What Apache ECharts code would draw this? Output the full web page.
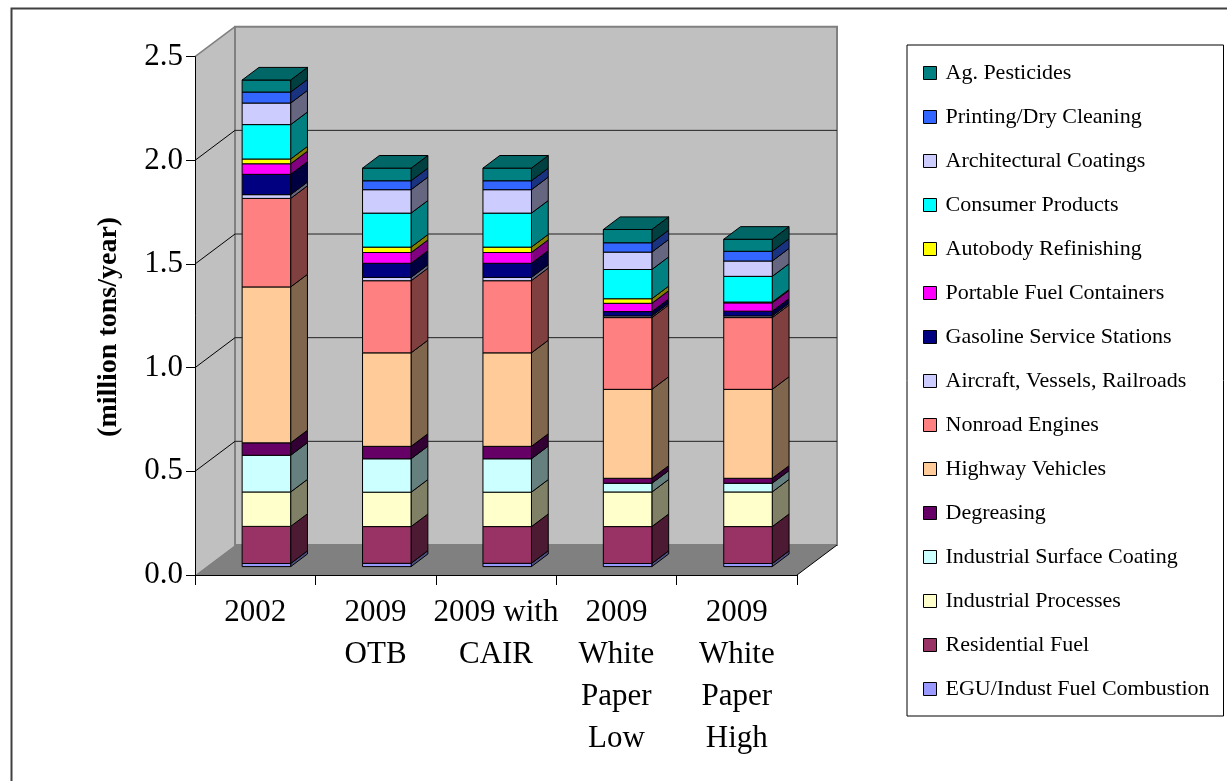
<!DOCTYPE html>
<html>
<head>
<meta charset="utf-8">
<title>VOC Emissions by Source Category</title>
<script src="https://cdn.jsdelivr.net/npm/echarts@6/dist/echarts.min.js"></script>
<style>
  html, body { margin: 0; padding: 0; background: #fff; }
  #chart { width: 1227px; height: 781px; }
</style>
</head>
<body>
<div id="chart"></div>
<script>
// Scenario columns
const categories = ['2002', '2009\nOTB', '2009 with\nCAIR', '2009\nWhite\nPaper\nLow', '2009\nWhite\nPaper\nHigh'];

// Source categories, stacked bottom to top (million tons/year)
const egu          = [0.015, 0.016, 0.016, 0.015, 0.015];
const residential  = [0.179, 0.177, 0.177, 0.178, 0.178];
const indProcesses = [0.166, 0.166, 0.166, 0.167, 0.167];
const indSurface   = [0.177, 0.161, 0.161, 0.042, 0.042];
const degreasing   = [0.060, 0.060, 0.060, 0.024, 0.024];
const highway      = [0.752, 0.451, 0.451, 0.429, 0.429];
const nonroad      = [0.427, 0.348, 0.348, 0.346, 0.346];
const aircraft     = [0.018, 0.016, 0.016, 0.008, 0.008];
const gasoline     = [0.098, 0.068, 0.068, 0.021, 0.023];
const portableFuel = [0.051, 0.052, 0.052, 0.040, 0.040];
const autobody     = [0.023, 0.026, 0.026, 0.022, 0.004];
const consumer     = [0.166, 0.164, 0.164, 0.141, 0.124];
const architectural= [0.104, 0.113, 0.113, 0.084, 0.074];
const printing     = [0.053, 0.043, 0.043, 0.045, 0.047];
const agPesticides = [0.058, 0.061, 0.061, 0.064, 0.058];

const yTicks = [0, 0.5, 1.0, 1.5, 2.0, 2.5];

const sources = [
  { name: 'EGU/Indust Fuel Combustion', data: egu,           color: '#9999FF' },
  { name: 'Residential Fuel',           data: residential,   color: '#993366' },
  { name: 'Industrial Processes',       data: indProcesses,  color: '#FFFFCC' },
  { name: 'Industrial Surface Coating', data: indSurface,    color: '#CCFFFF' },
  { name: 'Degreasing',                 data: degreasing,    color: '#660066' },
  { name: 'Highway Vehicles',           data: highway,       color: '#FFCC99' },
  { name: 'Nonroad Engines',            data: nonroad,       color: '#FF8080' },
  { name: 'Aircraft, Vessels, Railroads', data: aircraft,    color: '#CCCCFF' },
  { name: 'Gasoline Service Stations',  data: gasoline,      color: '#000080' },
  { name: 'Portable Fuel Containers',   data: portableFuel,  color: '#FF00FF' },
  { name: 'Autobody Refinishing',       data: autobody,      color: '#FFFF00' },
  { name: 'Consumer Products',          data: consumer,      color: '#00FFFF' },
  { name: 'Architectural Coatings',     data: architectural, color: '#CCCCFF' },
  { name: 'Printing/Dry Cleaning',      data: printing,      color: '#3366FF' },
  { name: 'Ag. Pesticides',             data: agPesticides,  color: '#008080' }
];

// Oblique projection of the plot box depth (pixels)
const DEPTH_X = 40, DEPTH_Y = -30;
const BAR_FRONT = 0.28;   // bar front face position within the depth
const BAR_DEPTH = 0.42;   // bar depth as fraction of the box depth
const BAR_WIDTH = 0.403;  // bar width as fraction of the category band

const FONT = '"Liberation Serif", "Times New Roman", serif';

function shade(hex, k) {
  const n = parseInt(hex.slice(1), 16);
  const r = Math.round(((n >> 16) & 255) * k);
  const g = Math.round(((n >> 8) & 255) * k);
  const b = Math.round((n & 255) * k);
  return 'rgb(' + r + ',' + g + ',' + b + ')';
}

function renderWalls(params, api) {
  const cs = params.coordSys;
  const x = cs.x, y = cs.y, w = cs.width, h = cs.height;
  const dx = DEPTH_X, dy = DEPTH_Y;
  const children = [];
  // left wall
  children.push({ type: 'polygon', shape: { points: [[x, y], [x + dx, y + dy], [x + dx, y + h + dy], [x, y + h]] },
    style: { fill: '#c0c0c0', stroke: null } });
  // floor
  children.push({ type: 'polygon', shape: { points: [[x, y + h], [x + dx, y + h + dy], [x + w + dx, y + h + dy], [x + w, y + h]] },
    style: { fill: '#808080', stroke: null } });
  // back wall
  children.push({ type: 'rect', shape: { x: x + dx, y: y + dy, width: w, height: h },
    style: { fill: '#c0c0c0', stroke: '#808080', lineWidth: 2 } });
  // gridlines on back and left walls
  yTicks.forEach(function (v) {
    if (v === 0 || v === yTicks[yTicks.length - 1]) return;
    const yy = api.coord([0, v])[1];
    children.push({ type: 'line', shape: { x1: x + dx, y1: yy + dy, x2: x + dx + w, y2: yy + dy },
      style: { stroke: '#222', lineWidth: 1 } });
    children.push({ type: 'line', shape: { x1: x, y1: yy, x2: x + dx, y2: yy + dy },
      style: { stroke: '#000', lineWidth: 1 } });
  });
  // wall edges
  children.push({ type: 'line', shape: { x1: x, y1: y, x2: x + dx, y2: y + dy }, style: { stroke: '#808080', lineWidth: 1.5 } });
  children.push({ type: 'line', shape: { x1: x + w, y1: y + h, x2: x + w + dx, y2: y + h + dy }, style: { stroke: '#000', lineWidth: 1 } });
  return { type: 'group', children: children };
}

function renderSegment(params, api) {
  const cat = api.value(0);
  const val = api.value(1);
  const base = api.value(2);
  const isTop = api.value(3) === 1;
  const color = sources[params.seriesIndex - 1].color;
  const p0 = api.coord([cat, base]);
  const p1 = api.coord([cat, base + val]);
  const bw = api.size([1, 0])[0] * BAR_WIDTH;
  const ox = DEPTH_X * BAR_FRONT, oy = DEPTH_Y * BAR_FRONT;
  const sx = DEPTH_X * BAR_DEPTH, sy = DEPTH_Y * BAR_DEPTH;
  const x0 = p0[0] - bw / 2 + ox, x1 = x0 + bw;
  const yb = p0[1] + oy, yt = p1[1] + oy;
  const line = { stroke: '#000', lineWidth: 1, lineJoin: 'round' };
  const children = [
    { type: 'polygon', shape: { points: [[x1, yb], [x1 + sx, yb + sy], [x1 + sx, yt + sy], [x1, yt]] },
      style: Object.assign({ fill: shade(color, 0.5) }, line) },
    { type: 'rect', shape: { x: x0, y: yt, width: bw, height: yb - yt },
      style: Object.assign({ fill: color }, line) }
  ];
  if (isTop) {
    children.push({ type: 'polygon', shape: { points: [[x0, yt], [x0 + sx, yt + sy], [x1 + sx, yt + sy], [x1, yt]] },
      style: Object.assign({ fill: shade(color, 0.8) }, line) });
  }
  return { type: 'group', children: children };
}

// cumulative bases for the stack
const bases = categories.map(function () { return 0; });
const barSeries = sources.map(function (s, si) {
  const data = s.data.map(function (v, ci) {
    const item = [ci, v, bases[ci], si === sources.length - 1 ? 1 : 0];
    bases[ci] += v;
    return item;
  });
  return {
    type: 'custom',
    name: s.name,
    coordinateSystem: 'cartesian2d',
    renderItem: renderSegment,
    itemStyle: { color: s.color, borderColor: '#000', borderWidth: 1 },
    encode: { x: 0, y: 1 },
    data: data,
    z: 3,
    silent: true
  };
});

const chart = echarts.init(document.getElementById('chart'), null, { renderer: 'canvas' });

chart.setOption({
  backgroundColor: '#ffffff',
  animation: false,
  graphic: [{
    type: 'rect', left: 9, top: 6, shape: { width: 1240, height: 800 },
    style: { fill: 'none', stroke: '#404040', lineWidth: 2 }, silent: true
  }],
  grid: { left: 195, top: 56.7, width: 602, height: 518.3, containLabel: false },
  legend: {
    orient: 'vertical',
    left: 907, top: 45,
    padding: [17, 14, 16, 16],
    itemGap: 22,
    itemWidth: 13, itemHeight: 13,
    icon: 'rect',
    selectedMode: false,
    backgroundColor: '#fff',
    borderColor: '#000', borderWidth: 1,
    itemStyle: { borderColor: '#000', borderWidth: 1 },
    textStyle: { fontFamily: FONT, fontSize: 22, color: '#000', padding: [0, 0, 0, 4] },
    data: sources.map(function (s) { return s.name; }).reverse()
  },
  xAxis: {
    type: 'category',
    data: categories,
    axisLine: { show: true, lineStyle: { color: '#000', width: 1 } },
    axisTick: { show: true, length: 10, lineStyle: { color: '#000' } },
    axisLabel: { fontFamily: FONT, fontSize: 31, color: '#000', lineHeight: 42, margin: 17, interval: 0 },
    splitLine: { show: false }
  },
  yAxis: {
    type: 'value',
    min: yTicks[0], max: yTicks[yTicks.length - 1], interval: 0.5,
    name: '(million tons/year)',
    nameLocation: 'middle',
    nameGap: 72,
    nameRotate: 90,
    nameTextStyle: { fontFamily: FONT, fontSize: 28, fontWeight: 'bold', color: '#000', padding: [0, 22, 0, 0] },
    axisLine: { show: true, lineStyle: { color: '#000', width: 1 } },
    axisTick: { show: true, length: 9, lineStyle: { color: '#000' } },
    axisLabel: { fontFamily: FONT, fontSize: 31, color: '#000', margin: 12,
      formatter: function (v) { return v.toFixed(1); } },
    splitLine: { show: false }
  },
  series: [{
    type: 'custom',
    name: 'walls',
    coordinateSystem: 'cartesian2d',
    renderItem: renderWalls,
    data: [[0, 0]],
    z: -1,
    silent: true
  }].concat(barSeries)
});
</script>
</body>
</html>
